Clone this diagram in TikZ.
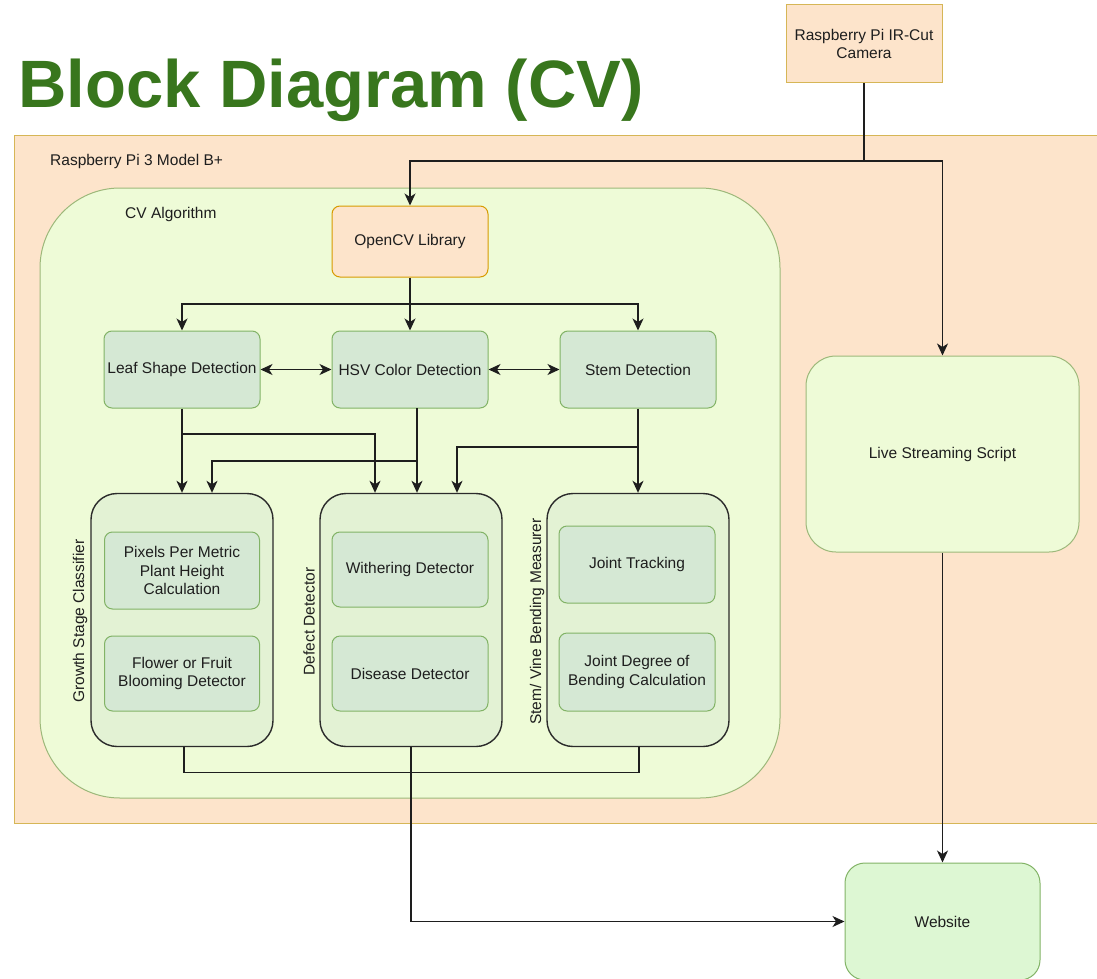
\documentclass[tikz,border=0pt]{standalone}
\usepackage{fontspec}
\setmainfont{Liberation Sans}
\usetikzlibrary{arrows.meta}

\definecolor{peach}{HTML}{FDE4CB}
\definecolor{peachline}{HTML}{D6B656}
\definecolor{orangeline}{HTML}{D79B00}
\definecolor{algofill}{HTML}{EEFBD7}
\definecolor{algoline}{HTML}{9DB87A}
\definecolor{modfill}{HTML}{E3F2D4}
\definecolor{modline}{HTML}{2B2B2B}
\definecolor{stepfill}{HTML}{D5E8D4}
\definecolor{stepline}{HTML}{82B366}
\definecolor{webfill}{HTML}{DDF7D3}
\definecolor{titlegreen}{HTML}{38761D}
\definecolor{ink}{HTML}{1E1E1E}

\begin{document}
\begin{tikzpicture}[x=1pt,y=-1pt,
  every node/.style={font=\fontsize{15.5}{18.5}\selectfont, text=ink, align=center, inner sep=0pt},
  conn/.style={draw=ink, line width=1.4pt},
  arr/.style={conn, -{Stealth[length=12pt,width=11pt,inset=3.5pt]}},
  biarr/.style={conn, {Stealth[length=12pt,width=11pt,inset=3.5pt]}-{Stealth[length=12pt,width=11pt,inset=3.5pt]}},
  peachbox/.style={draw=peachline, fill=peach, line width=1pt},
  stepbox/.style={draw=stepline, fill=stepfill, line width=1pt, rounded corners=8pt},
  modbox/.style={draw=modline, fill=modfill, line width=1.4pt, rounded corners=26pt,
                 minimum width=182pt, minimum height=253pt},
  sidelabel/.style={rotate=90}
]
\useasboundingbox (0,0) rectangle (1097,979);

% containers
\node[peachbox, minimum width=1100pt, minimum height=688pt] (rpi) at (564,479.5) {};
\node[anchor=west] (rpilabel) at (50,161) {Raspberry Pi 3 Model B+};
\node[draw=algoline, fill=algofill, line width=1pt, rounded corners=80pt,
      minimum width=740pt, minimum height=610pt] (algo) at (410,493) {};
\node[anchor=west] (algolabel) at (125,214) {CV Algorithm};

% title
\node[anchor=base west, font=\fontsize{67}{70}\selectfont\bfseries, text=titlegreen] (title) at (18,108) {Block Diagram (CV)};

% camera and library
\node[peachbox, minimum width=156pt, minimum height=78pt] (cam) at (864,44) {Raspberry Pi IR-Cut\\Camera};
\node[draw=orangeline, fill=peach, line width=1pt, rounded corners=8pt,
      minimum width=156pt, minimum height=71pt] (opencv) at (410,241.5) {OpenCV Library};

% detection row
\node[stepbox, minimum width=156pt, minimum height=77pt] (leaf) at (182,369.5) {Leaf Shape Detection};
\node[stepbox, minimum width=156pt, minimum height=77pt] (hsv) at (410,369.5) {HSV Color Detection};
\node[stepbox, minimum width=156pt, minimum height=77pt] (stem) at (638,369.5) {Stem Detection};

% module row
\node[modbox] (grow) at (182,620) {};
\node[modbox] (defect) at (411,620) {};
\node[modbox] (svb) at (638,620) {};
\node[sidelabel] (growlabel) at (80,621) {Growth Stage Classifier};
\node[sidelabel] (defectlabel) at (309,621.5) {Defect Detector};
\node[sidelabel] (svblabel) at (537,621.5) {Stem/ Vine Bending Measurer};

\node[stepbox, minimum width=155pt, minimum height=77pt] (ppm) at (182,570.5) {Pixels Per Metric\\Plant Height\\Calculation};
\node[stepbox, minimum width=155pt, minimum height=75pt] (bloom) at (182,673.5) {Flower or Fruit\\Blooming Detector};
\node[stepbox, minimum width=156pt, minimum height=75pt] (wither) at (410,569.5) {Withering Detector};
\node[stepbox, minimum width=156pt, minimum height=75pt] (disease) at (410,673.5) {Disease Detector};
\node[stepbox, minimum width=156pt, minimum height=77pt] (joint) at (637,564.5) {Joint Tracking};
\node[stepbox, minimum width=156pt, minimum height=78pt] (bend) at (637,672) {Joint Degree of\\Bending Calculation};

% outputs
\node[draw=algoline, fill=algofill, line width=1pt, rounded corners=30pt,
      minimum width=273pt, minimum height=196pt] (live) at (942.5,454) {Live Streaming Script};
\node[draw=stepline, fill=webfill, line width=1pt, rounded corners=20pt,
      minimum width=195pt, minimum height=117pt] (web) at (942.5,921.5) {Website};

% camera feed
\coordinate (camsplit) at (864,161);
\draw[conn] (cam.south) -- (camsplit);
\draw[arr] (camsplit) -| (opencv.north);
\draw[arr] (camsplit) -| (live.north);

% library fan-out
\coordinate (fan) at (410,304);
\draw[conn] (opencv.south) -- (fan);
\draw[arr] (fan) -| (leaf.north);
\draw[arr] (fan) -- (hsv.north);
\draw[arr] (fan) -| (stem.north);

\draw[biarr] (leaf.east) -- (hsv.west);
\draw[biarr] (hsv.east) -- (stem.west);

% detection to modules
\coordinate (leafsplit) at (182,434);
\draw[arr] (leaf.south) -- (grow.north);
\draw[arr] (leafsplit) -| ([xshift=-36pt]defect.north);

\coordinate (hsvdown) at (417,408);
\coordinate (hsvsplit) at (417,461);
\draw[arr] (hsvdown) -- (hsvdown |- defect.north);
\draw[arr] (hsvsplit) -| ([xshift=30pt]grow.north);

\coordinate (stemsplit) at (638,447);
\draw[arr] (stem.south) -- (svb.north);
\draw[arr] (stemsplit) -| ([xshift=46pt]defect.north);

% module outputs
\draw[conn] ([xshift=2pt]grow.south) -- ++(0,25.5) -| ([xshift=1pt]svb.south);
\draw[arr] (defect.south) |- (web.west);
\draw[arr] (live.south) -- (web.north);
\end{tikzpicture}
\end{document}
